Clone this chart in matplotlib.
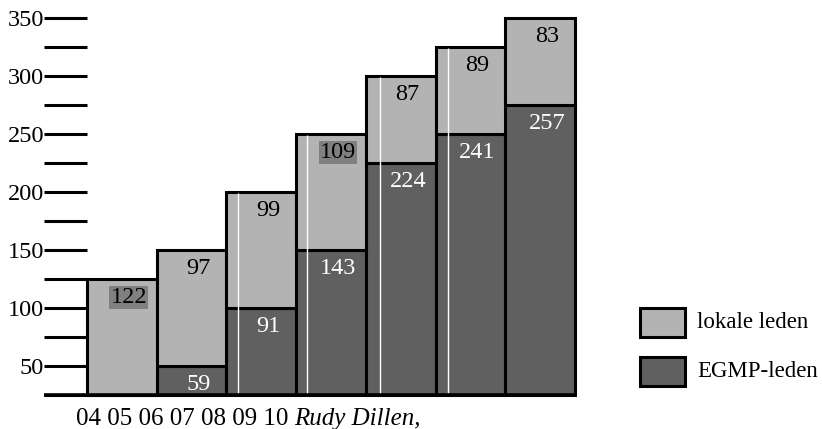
import matplotlib
matplotlib.use("Agg")
import matplotlib.pyplot as plt
from matplotlib.patches import Rectangle

plt.rcParams["font.family"] = ["Liberation Serif", "DejaVu Serif"]

# data
years = ["04", "05", "06", "07", "08", "09", "10"]
base = 25
egmp_top = [25, 50, 100, 150, 225, 250, 275]      # top of dark segment
total_top = [125, 150, 200, 250, 300, 325, 350]   # top of bar
egmp_labels = [None, 59, 91, 143, 224, 241, 257]
lokaal_labels = [122, 97, 99, 109, 87, 89, 83]
boxed = [True, False, False, True, False, False, False]
white_streak = [None, None, 0.16, 0.15, 0.20, 0.18, None]

LIGHT = "#b3b3b3"
DARK = "#606060"
BOX = "#808080"
FS = 17.5
W, H = 822, 429

fig = plt.figure(figsize=(W / 100, H / 100), dpi=100)
ax = fig.add_axes([44 / W, (H - 395) / H, 531 / W, 379.3 / H])
ax.set_xlim(-0.617, 7)
ax.set_ylim(25, 352)
for s in ax.spines.values():
    s.set_visible(False)

x = list(range(len(years)))
dark_h = [t - base for t in egmp_top]
light_h = [t - e for t, e in zip(total_top, egmp_top)]
ax.bar(x, dark_h, bottom=base, width=1, align="edge", color=DARK,
       edgecolor="black", linewidth=2.2, clip_on=False, zorder=2)
ax.bar(x, light_h, bottom=egmp_top, width=1, align="edge", color=LIGHT,
       edgecolor="black", linewidth=2.2, clip_on=False, zorder=2)

# white rendering streaks inside some bars
for i, off in enumerate(white_streak):
    if off is not None:
        ax.vlines(i + off, base + 1, total_top[i] - 1, color="white",
                  lw=1, zorder=3)

# tick marks every 25, baseline across
ticks = list(range(25, 351, 25))
ax.hlines(ticks, -0.617, 0, color="black", lw=2.2, zorder=1, clip_on=False)
ax.hlines(base, -0.617, 7, color="black", lw=2.6, zorder=4, clip_on=False)
ax.set_yticks(range(50, 351, 50))
ax.tick_params(axis="y", length=0, pad=0, labelsize=FS)
ax.set_xticks([])

for i in x:
    cx = i + 0.6
    lab = lokaal_labels[i]
    kw = dict(ha="center", va="baseline", fontsize=FS, zorder=5)
    if boxed[i]:
        kw["bbox"] = dict(boxstyle="square,pad=0.05", fc=BOX, ec="none")
    ax.text(cx, total_top[i] - 20.5, str(lab), color="black", **kw)
    if egmp_labels[i] is not None:
        ax.text(cx, egmp_top[i] - 20.5, str(egmp_labels[i]), color="white",
                ha="center", va="baseline", fontsize=FS, zorder=5)

# legend
for (y0, col, name) in [(308, LIGHT, "lokale leden"), (357, DARK, "EGMP-leden")]:
    fig.add_artist(Rectangle((640 / W, (H - y0 - 29) / H), 45 / W, 29 / H,
                             transform=fig.transFigure, fc=col, ec="black",
                             lw=2.2))
    fig.text(697 / W, (H - y0 - 14.5) / H, name, fontsize=16.5, va="center")

t = fig.text(76 / W, (H - 425) / H, " ".join(years) + " ", fontsize=18,
             va="baseline")
ax.annotate("Rudy Dillen,", xy=(1, 0), xycoords=t, fontsize=18,
            style="italic", va="bottom", annotation_clip=False)

fig.savefig("out.png", dpi=100)
